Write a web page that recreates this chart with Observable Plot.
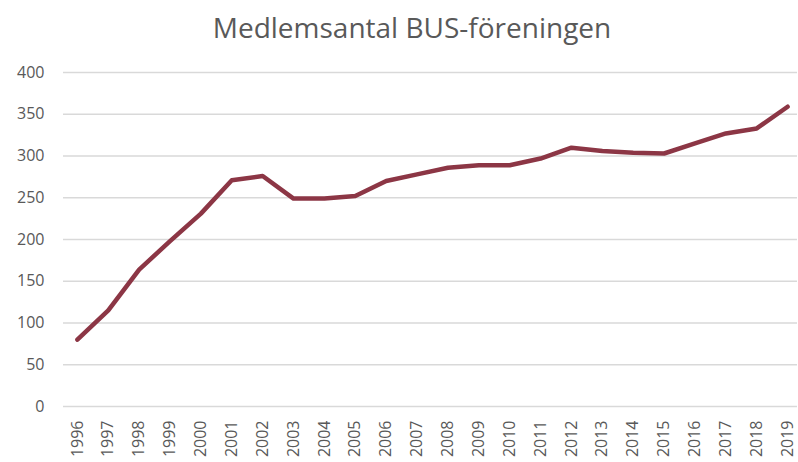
<!DOCTYPE html>
<html>
<head>
<meta charset="utf-8">
<script src="https://cdn.jsdelivr.net/npm/d3@7"></script>
<script src="https://cdn.jsdelivr.net/npm/@observablehq/plot@0.6"></script>
<style>
  body { margin: 0; background: #fff; }
  #title { height: 50px; line-height: 54px; text-align: center; font-family: "Open Sans", sans-serif; font-size: 28px; color: #595959; padding-left: 26px; box-sizing: border-box; }
  svg { display: block; }
</style>
</head>
<body>
<div id="title">Medlemsantal BUS-föreningen</div>
<div id="chart"></div>
<script>
const years = [1996,1997,1998,1999,2000,2001,2002,2003,2004,2005,2006,2007,2008,2009,2010,2011,2012,2013,2014,2015,2016,2017,2018,2019];
const members = [80,115,164,198,231,271,276,249,249,252,270,278,286,289,289,297,310,306,304,303,315,327,333,359];
const yTicks = [0,50,100,150,200,250,300,350,400];

const data = years.map((y, i) => ({year: y, value: members[i]}));

const chart = Plot.plot({
  width: 798,
  height: 412,
  marginTop: 22,
  marginBottom: 56,
  marginLeft: 63,
  marginRight: 1,
  style: { fontFamily: "Open Sans, sans-serif", fontSize: "16px", color: "#595959", background: "#fff" },
  x: { type: "linear", domain: [1995.55, 2019.32], label: null },
  y: { domain: [0, 400], ticks: yTicks, label: null },
  marks: [
    Plot.ruleY(yTicks, { stroke: "#d9d9d9", strokeWidth: 1.5 }),
    Plot.axisY({ ticks: yTicks, tickSize: 0, tickPadding: 19, label: null, fontSize: 16 }),
    Plot.axisX({ ticks: years, tickFormat: d => String(d), tickSize: 0, tickPadding: 14, tickRotate: -90, label: null, fontSize: 16 }),
    Plot.line(data, { x: "year", y: "value", stroke: "#8c3645", strokeWidth: 4.5, strokeLinejoin: "round", strokeLinecap: "round" })
  ]
});
document.getElementById("chart").appendChild(chart);
</script>
</body>
</html>
